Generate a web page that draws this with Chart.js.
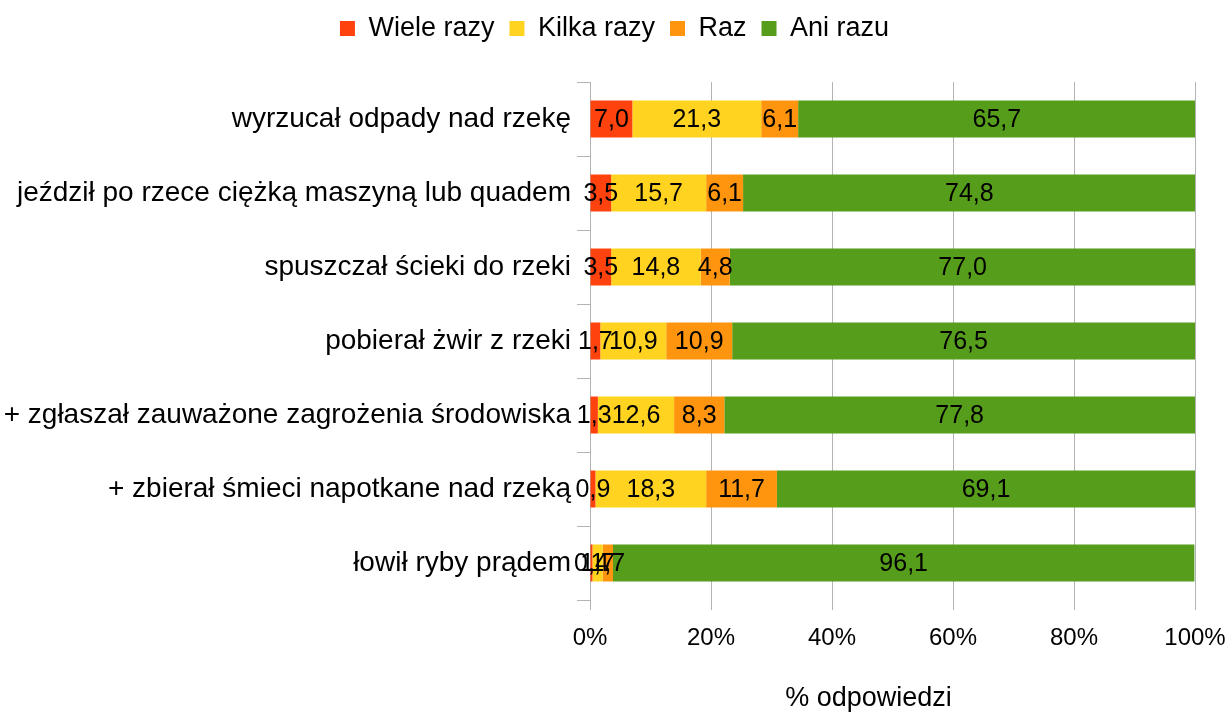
<!DOCTYPE html>
<html>
<head>
<meta charset="utf-8">
<script src="https://cdn.jsdelivr.net/npm/chart.js@4/dist/chart.umd.min.js"></script>
<style>
html,body{margin:0;padding:0;background:#fff;}
#wrap{width:1229px;height:713px;position:relative;}
</style>
</head>
<body>
<div id="wrap"><canvas id="c" width="1229" height="713"></canvas></div>
<script>
const categories = [
  "wyrzucał odpady nad rzekę",
  "jeździł po rzece ciężką maszyną lub quadem",
  "spuszczał ścieki do rzeki",
  "pobierał żwir z rzeki",
  "+ zgłaszał zauważone zagrożenia środowiska",
  "+ zbierał śmieci napotkane nad rzeką",
  "łowił ryby prądem"
];
const wieleRazy = [7.0, 3.5, 3.5, 1.7, 1.3, 0.9, 0.4];
const kilkaRazy = [21.3, 15.7, 14.8, 10.9, 12.6, 18.3, 1.7];
const raz       = [6.1, 6.1, 4.8, 10.9, 8.3, 11.7, 1.7];
const aniRazu   = [65.7, 74.8, 77.0, 76.5, 77.8, 69.1, 96.1];
const seriesNames = ["Wiele razy", "Kilka razy", "Raz", "Ani razu"];
const xTicks = [0, 20, 40, 60, 80, 100];
const xTitle = "% odpowiedzi";

const FONT = "'Liberation Sans', Arial, sans-serif";
const colors = ["#FF420E", "#FFD320", "#FF950E", "#579D1C"];
const seriesData = [wieleRazy, kilkaRazy, raz, aniRazu];

const labelPlugin = {
  id: 'barLabels',
  afterDatasetsDraw(chart) {
    const ctx = chart.ctx;
    ctx.save();
    ctx.font = "25px " + FONT;
    ctx.fillStyle = "#000";
    ctx.textAlign = "center";
    ctx.textBaseline = "middle";
    chart.data.datasets.forEach((ds, i) => {
      const meta = chart.getDatasetMeta(i);
      meta.data.forEach((bar, j) => {
        const p = bar.getProps(['x', 'y', 'base'], true);
        const cx = (p.x + p.base) / 2;
        ctx.fillText(ds.data[j].toFixed(1).replace('.', ','), cx, p.y + 1);
      });
    });
    ctx.restore();
  },
  afterDraw(chart) {
    const ctx = chart.ctx;
    const ca = chart.chartArea;
    ctx.save();
    ctx.font = "27px " + FONT;
    ctx.fillStyle = "#000";
    ctx.textAlign = "center";
    ctx.textBaseline = "middle";
    ctx.fillText(xTitle, (ca.left + ca.right) / 2 - 24, chart.height - 14);
    ctx.restore();
  }
};

new Chart(document.getElementById('c'), {
  type: 'bar',
  data: {
    labels: categories,
    datasets: seriesData.map((d, i) => ({
      label: seriesNames[i],
      data: d,
      backgroundColor: colors[i],
      borderWidth: 0,
      barPercentage: 0.5,
      categoryPercentage: 1.0
    }))
  },
  options: {
    indexAxis: 'y',
    responsive: false,
    animation: false,
    layout: { padding: { left: 0, right: 0, top: 0, bottom: 0 } },
    plugins: {
      tooltip: { enabled: false },
      legend: {
        position: 'top',
        weight: 3000,
        labels: {
          font: { family: FONT, size: 27 },
          color: '#000',
          boxWidth: 15,
          boxHeight: 15,
          padding: 15
        }
      },
      title: {
        display: true,
        text: ' ',
        weight: 2000,
        padding: 0,
        font: { size: 30, lineHeight: 1 }
      }
    },
    scales: {
      x: {
        stacked: true,
        min: 0,
        max: 100,
        afterBuildTicks(scale) { scale.ticks = xTicks.map(v => ({ value: v })); },
        afterFit(scale) { scale.height = 113; scale.paddingLeft = 0; scale.paddingRight = 34; },
        ticks: {
          callback: v => v + '%',
          font: { family: FONT, size: 24 },
          color: '#000',
          padding: 14,
          maxRotation: 0
        },
        grid: { color: '#b3b3b3', lineWidth: 1, tickLength: 10, drawTicks: true },
        border: { display: false },
        title: { display: false }
      },
      y: {
        stacked: true,
        afterFit(scale) { scale.width = 590; scale.paddingTop = 0; scale.paddingBottom = 0; },
        ticks: {
          font: { family: FONT, size: 28 },
          color: '#000',
          padding: 6
        },
        grid: { offset: true, drawOnChartArea: false, color: '#b3b3b3', tickLength: 13 },
        border: { display: false }
      }
    }
  },
  plugins: [labelPlugin]
});
</script>
</body>
</html>
